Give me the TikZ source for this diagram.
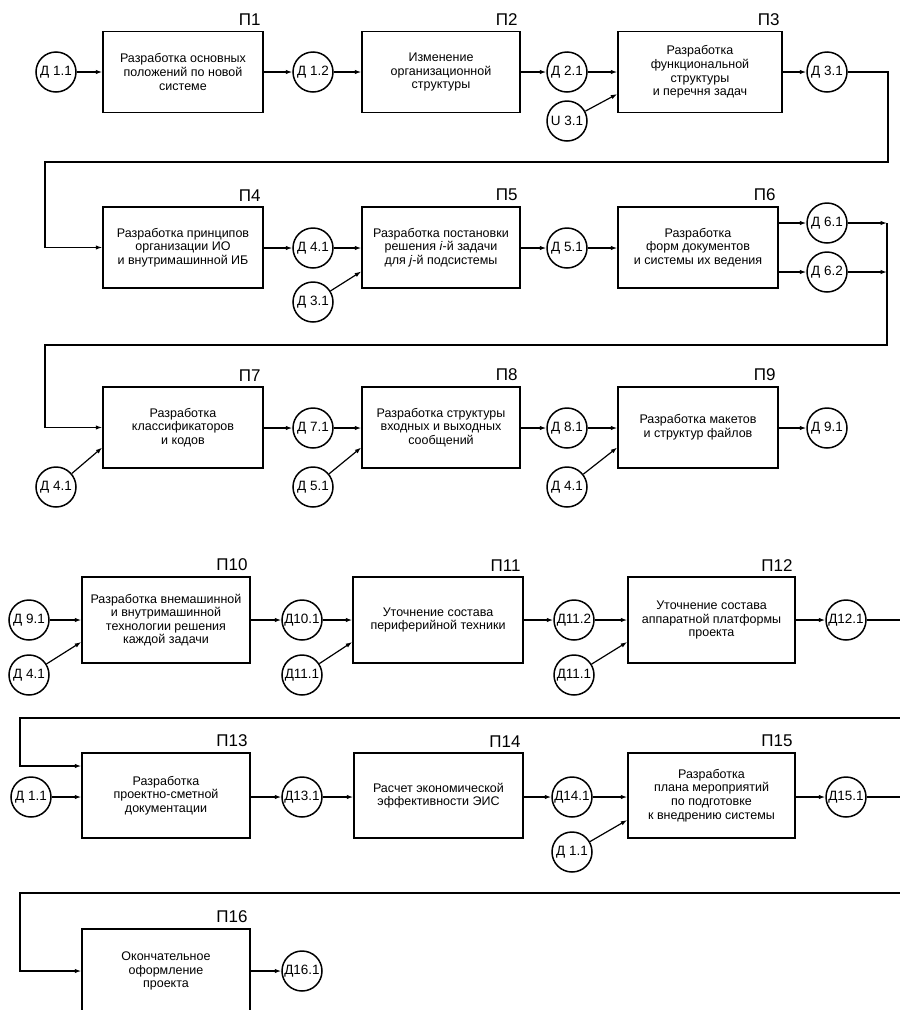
\documentclass[tikz,border=0pt]{standalone}
\usepackage{fontspec}
\setmainfont{Liberation Sans}
\usetikzlibrary{arrows.meta}
\tikzset{
  proc/.style={draw, line width=1.5pt, minimum width=160pt, minimum height=81pt, align=center,
    font=\fontsize{12.5}{13.6}\selectfont, inner sep=1pt},
  dat/.style={draw, circle, line width=1.5pt, minimum size=40pt, inner sep=0pt,
    font=\fontsize{13.5}{14}\selectfont},
  arr/.style={line width=1.2pt, -{Latex[length=6.5pt,width=4.5pt]}},
  plabel/.style={font=\fontsize{17}{17}\selectfont, anchor=south east, inner sep=1pt}
}
\begin{document}
\begin{tikzpicture}[x=1pt,y=-1pt]
\useasboundingbox (0,0) rectangle (900,1010);
\clip (0,0) rectangle (900,1010);
% ---------- row 1
\node[proc] (P1) at (183,72) {Разработка основных\\положений по новой\\системе};
\node[proc, minimum width=158pt] (P2) at (441,72) {Изменение\\организационной\\структуры};
\node[proc, minimum width=164pt] (P3) at (700,72) {Разработка\\функциональной\\структуры\\и перечня задач};
\node[dat] (D11a) at (56,72) {Д 1.1};
\node[dat] (D12) at (313,72) {Д 1.2};
\node[dat] (D21) at (567,72) {Д 2.1};
\node[dat] (U31) at (567,121) {U 3.1};
\node[dat] (D31a) at (827,72) {Д 3.1};
% ---------- row 2
\node[proc] (P4) at (183,247.5) {Разработка принципов\\организации ИО\\и внутримашинной ИБ};
\node[proc, minimum width=158pt] (P5) at (441,247.5) {Разработка постановки\\решения \textit{i}-й задачи\\для \textit{j}-й подсистемы};
\node[proc] (P6) at (698,247.5) {Разработка\\форм документов\\и системы их ведения};
\node[dat] (D41a) at (313,248) {Д 4.1};
\node[dat] (D31b) at (313,302) {Д 3.1};
\node[dat] (D51a) at (567,248) {Д 5.1};
\node[dat] (D61) at (827,223) {Д 6.1};
\node[dat] (D62) at (827,272) {Д 6.2};
% ---------- row 3
\node[proc] (P7) at (183,427.5) {Разработка\\классификаторов\\и кодов};
\node[proc, minimum width=158pt] (P8) at (441,427.5) {Разработка структуры\\входных и выходных\\сообщений};
\node[proc] (P9) at (698,427.5) {Разработка макетов\\и структур файлов};
\node[dat] (D41b) at (56,487) {Д 4.1};
\node[dat] (D71) at (313,428) {Д 7.1};
\node[dat] (D51b) at (313,487) {Д 5.1};
\node[dat] (D81) at (567,428) {Д 8.1};
\node[dat] (D41c) at (567,487) {Д 4.1};
\node[dat] (D91a) at (827,428) {Д 9.1};
% ---------- row 4
\node[proc, minimum width=168pt, minimum height=86pt] (P10) at (166,620) {Разработка внемашинной\\и внутримашинной\\технологии решения\\каждой задачи};
\node[proc, minimum width=170pt, minimum height=86pt] (P11) at (438,620) {Уточнение состава\\периферийной техники};
\node[proc, minimum width=167pt, minimum height=86pt] (P12) at (711.5,620) {Уточнение состава\\аппаратной платформы\\проекта};
\node[dat] (D91b) at (29,620) {Д 9.1};
\node[dat] (D41d) at (29,675) {Д 4.1};
\node[dat] (D101) at (302,620) {Д10.1};
\node[dat] (D111a) at (302,675) {Д11.1};
\node[dat] (D112) at (574,620) {Д11.2};
\node[dat] (D111b) at (574,675) {Д11.1};
\node[dat] (D121) at (846,620) {Д12.1};
% ---------- row 5
\node[proc, minimum width=168pt, minimum height=85pt] (P13) at (166,795.5) {Разработка\\проектно-сметной\\документации};
\node[proc, minimum width=169pt, minimum height=85pt] (P14) at (438.5,795.5) {Расчет экономической\\эффективности ЭИС};
\node[proc, minimum width=167pt, minimum height=85pt] (P15) at (711.5,795.5) {Разработка\\плана мероприятий\\по подготовке\\к внедрению системы};
\node[dat] (D11b) at (31,797) {Д 1.1};
\node[dat] (D131) at (302,797) {Д13.1};
\node[dat] (D141) at (572,797) {Д14.1};
\node[dat] (D11c) at (572,852) {Д 1.1};
\node[dat] (D151) at (846,797) {Д15.1};
% ---------- row 6
\node[proc, minimum width=168pt, minimum height=84pt] (P16) at (166,971) {Окончательное\\оформление\\проекта};
\node[dat] (D161) at (302,971) {Д16.1};
% ---------- labels
\foreach \p/\t in {P1/П1,P2/П2,P3/П3,P4/П4,P5/П5,P6/П6,P7/П7,P8/П8,P9/П9,
  P10/П10,P11/П11,P12/П12,P13/П13,P14/П14,P15/П15,P16/П16}
  \node[plabel] (L\p) at ([xshift=-2pt,yshift=4pt]\p.north east) {\t};
% ---------- bend points
\coordinate (b1a) at (888,72);  \coordinate (b1b) at (888,162); \coordinate (b1c) at (45,162);
\coordinate (b2a) at (887,223); \coordinate (b2b) at (887,272); \coordinate (b2c) at (887,345); \coordinate (b2d) at (45,345);
\coordinate (b4a) at (915,620); \coordinate (b4b) at (915,718); \coordinate (b4c) at (20,718);
\coordinate (b5a) at (915,797); \coordinate (b5b) at (915,893); \coordinate (b5c) at (20,893);
% ---------- connectors row 1
\draw[arr] (D11a.east) -- (P1.west |- D11a);
\draw[arr] (P1.east |- D12) -- (D12.west);
\draw[arr] (D12.east) -- (P2.west |- D12);
\draw[arr] (P2.east |- D21) -- (D21.west);
\draw[arr] (D21.east) -- (P3.west |- D21);
\draw[arr] (U31) -- ([yshift=-22pt]P3.west);
\draw[arr] (P3.east |- D31a) -- (D31a.west);
\draw[arr] (D31a.east) -- (b1a) -- (b1b) -- (b1c) |- (P4.west);
% ---------- row 2
\draw[arr] (P4.east |- D41a) -- (D41a.west);
\draw[arr] (D41a.east) -- (P5.west |- D41a);
\draw[arr] (D31b) -- ([yshift=-24pt]P5.west);
\draw[arr] (P5.east |- D51a) -- (D51a.west);
\draw[arr] (D51a.east) -- (P6.west |- D51a);
\draw[arr] (P6.east |- D61) -- (D61.west);
\draw[arr] (P6.east |- D62) -- (D62.west);
\draw[arr] (D61.east) -- (b2a);
\draw[arr] (D62.east) -- (b2b);
\draw[arr] (b2a) -- (b2c) -- (b2d) |- (P7.west);
% ---------- row 3
\draw[arr] (D41b) -- ([yshift=-20pt]P7.west);
\draw[arr] (P7.east |- D71) -- (D71.west);
\draw[arr] (D71.east) -- (P8.west |- D71);
\draw[arr] (D51b) -- ([yshift=-20pt]P8.west);
\draw[arr] (P8.east |- D81) -- (D81.west);
\draw[arr] (D81.east) -- (P9.west |- D81);
\draw[arr] (D41c) -- ([yshift=-20pt]P9.west);
\draw[arr] (P9.east |- D91a) -- (D91a.west);
% ---------- row 4
\draw[arr] (D91b.east) -- (P10.west |- D91b);
\draw[arr] (D41d) -- ([yshift=-22pt]P10.west);
\draw[arr] (P10.east |- D101) -- (D101.west);
\draw[arr] (D101.east) -- (P11.west |- D101);
\draw[arr] (D111a) -- ([yshift=-22pt]P11.west);
\draw[arr] (P11.east |- D112) -- (D112.west);
\draw[arr] (D112.east) -- (P12.west |- D112);
\draw[arr] (D111b) -- ([yshift=-22pt]P12.west);
\draw[arr] (P12.east |- D121) -- (D121.west);
\draw[arr] (D121.east) -- (b4a) -- (b4b) -- (b4c) |- ([yshift=29.5pt]P13.west);
% ---------- row 5
\draw[arr] (D11b.east) -- (P13.west |- D11b);
\draw[arr] (P13.east |- D131) -- (D131.west);
\draw[arr] (D131.east) -- (P14.west |- D131);
\draw[arr] (P14.east |- D141) -- (D141.west);
\draw[arr] (D141.east) -- (P15.west |- D141);
\draw[arr] (D11c) -- ([yshift=-24.5pt]P15.west);
\draw[arr] (P15.east |- D151) -- (D151.west);
\draw[arr] (D151.east) -- (b5a) -- (b5b) -- (b5c) |- (P16.west);
% ---------- row 6
\draw[arr] (P16.east |- D161) -- (D161.west);
\end{tikzpicture}
\end{document}
